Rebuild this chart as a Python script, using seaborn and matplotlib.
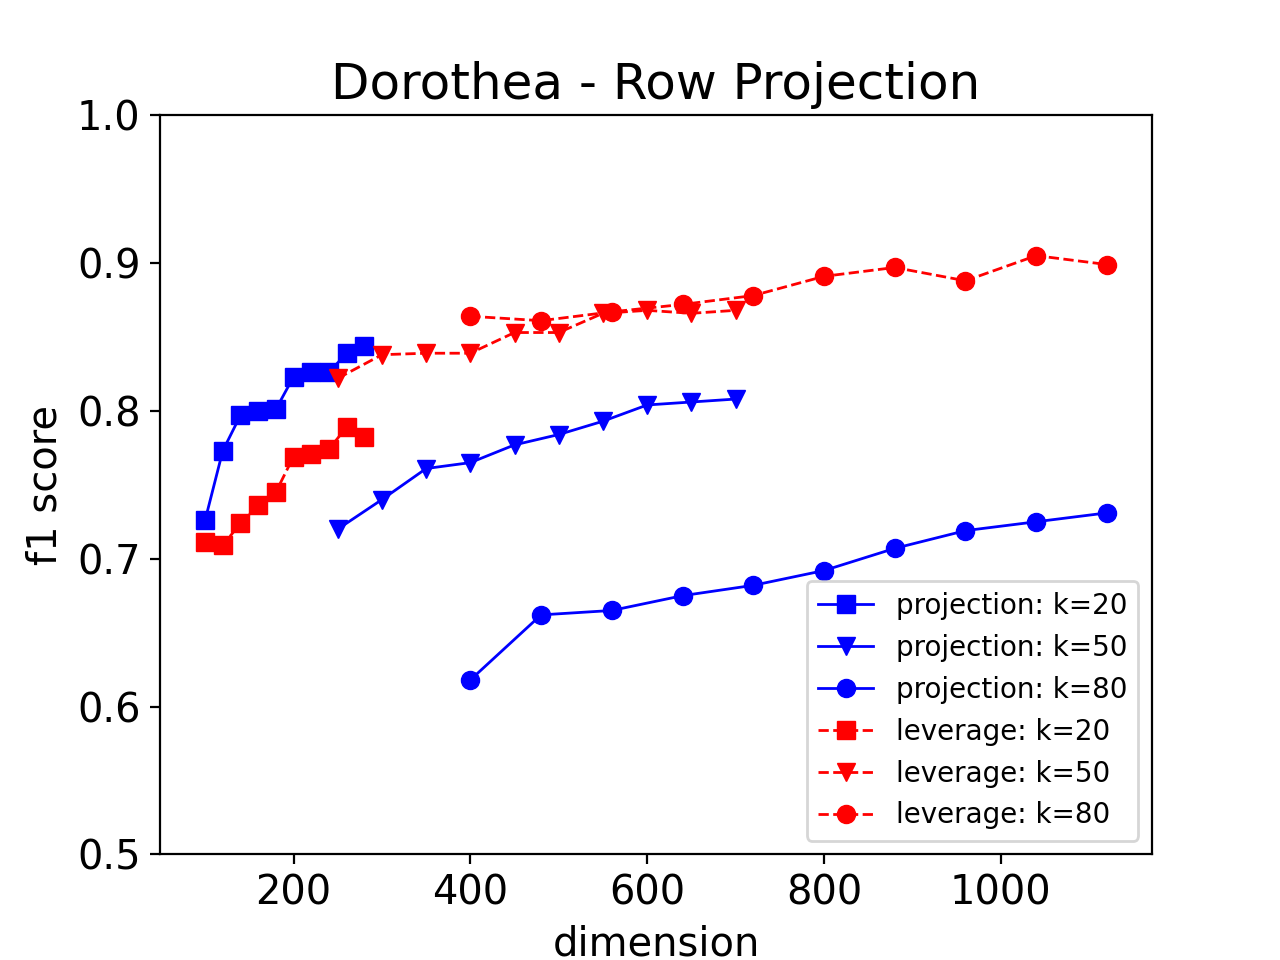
import matplotlib
matplotlib.use("Agg")
import matplotlib.pyplot as plt
import seaborn as sns
import pandas as pd

x_k20 = [100, 120, 140, 160, 180, 200, 220, 240, 260, 280]
x_k50 = [250, 300, 350, 400, 450, 500, 550, 600, 650, 700]
x_k80 = [400, 480, 560, 640, 720, 800, 880, 960, 1040, 1120]

proj_k20 = [0.726, 0.773, 0.797, 0.800, 0.801, 0.823, 0.826, 0.826, 0.839, 0.844]
proj_k50 = [0.720, 0.740, 0.761, 0.765, 0.777, 0.784, 0.793, 0.804, 0.806, 0.808]
proj_k80 = [0.618, 0.662, 0.665, 0.675, 0.682, 0.692, 0.707, 0.719, 0.725, 0.731]

lev_k20 = [0.711, 0.709, 0.724, 0.736, 0.745, 0.769, 0.771, 0.774, 0.789, 0.782]
lev_k50 = [0.822, 0.838, 0.839, 0.839, 0.853, 0.853, 0.866, 0.868, 0.866, 0.868]
lev_k80 = [0.864, 0.861, 0.867, 0.872, 0.878, 0.891, 0.897, 0.888, 0.905, 0.899]

series = [
    ("projection: k=20", x_k20, proj_k20, "blue", "s", "-"),
    ("projection: k=50", x_k50, proj_k50, "blue", "v", "-"),
    ("projection: k=80", x_k80, proj_k80, "blue", "o", "-"),
    ("leverage: k=20", x_k20, lev_k20, "red", "s", "--"),
    ("leverage: k=50", x_k50, lev_k50, "red", "v", "--"),
    ("leverage: k=80", x_k80, lev_k80, "red", "o", "--"),
]

fig, ax = plt.subplots(figsize=(6.4, 4.8), dpi=200)
for label, xs, ys, color, marker, ls in series:
    df = pd.DataFrame({"dimension": xs, "f1": ys})
    sns.lineplot(data=df, x="dimension", y="f1", ax=ax, color=color,
                 marker=marker, linestyle=ls, linewidth=1.0, markersize=6.5,
                 markeredgecolor=color, markeredgewidth=0.5, label=label,
                 sort=False)

ax.set_ylim(0.5, 1.0)
ax.set_yticks([0.5, 0.6, 0.7, 0.8, 0.9, 1.0])
ax.set_xticks([200, 400, 600, 800, 1000])
ax.tick_params(labelsize=14.4)
ax.set_title("Dorothea - Row Projection", fontsize=18)
ax.set_xlabel("dimension", fontsize=14.4)
ax.set_ylabel("f1 score", fontsize=14.4)
ax.legend(loc="lower right", fontsize=10)
fig.savefig("out.png", dpi=200)
